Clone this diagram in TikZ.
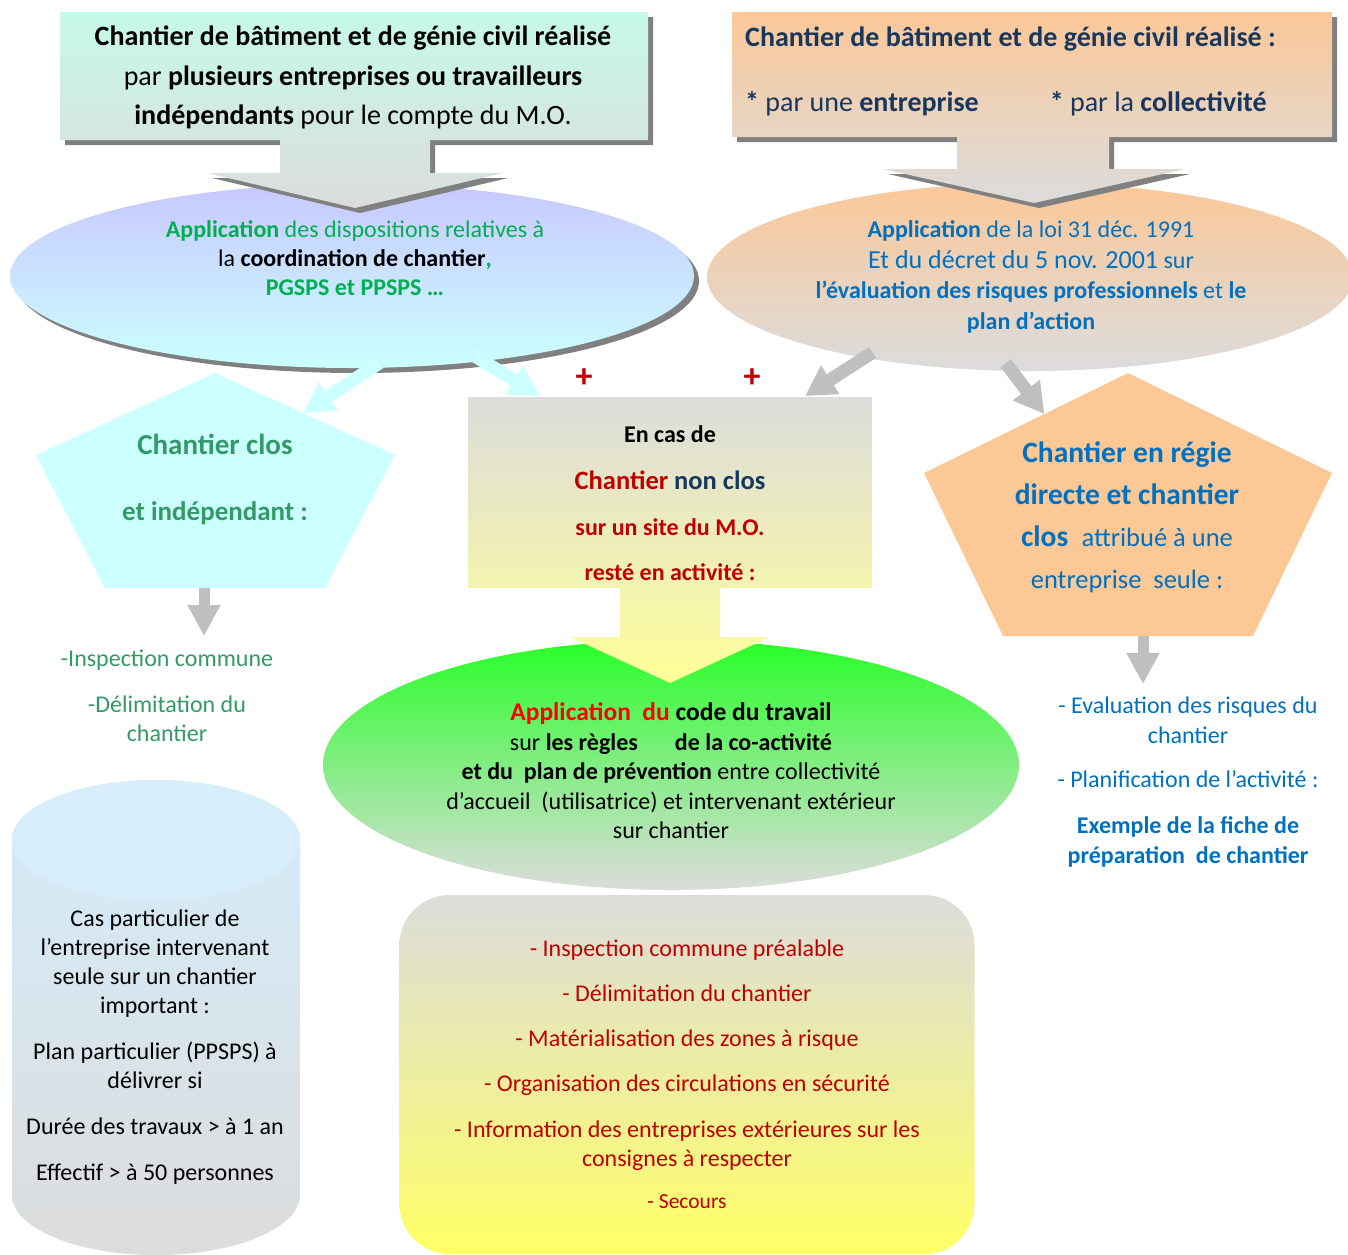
\documentclass[tikz,border=0pt]{standalone}
\usepackage{fontspec}
\setmainfont{Carlito}
\usetikzlibrary{shapes.geometric,arrows.meta,shadows,calc}

\definecolor{mint}{RGB}{198,250,230}
\definecolor{lgray}{RGB}{220,220,220}
\definecolor{peach}{RGB}{251,200,152}
\definecolor{lavend}{RGB}{200,200,255}
\definecolor{lcyan}{RGB}{204,255,255}
\definecolor{bgreen}{RGB}{40,255,40}
\definecolor{lyellow}{RGB}{255,255,153}
\definecolor{byellow}{RGB}{255,255,102}
\definecolor{skyblue}{RGB}{212,237,252}
\definecolor{capblue}{RGB}{216,238,251}
\definecolor{arrgray}{RGB}{191,191,191}
\definecolor{shgray}{RGB}{128,128,128}
\definecolor{txtgreen}{RGB}{0,176,80}
\definecolor{dgreen}{RGB}{51,153,102}
\definecolor{offblue}{RGB}{0,112,192}
\definecolor{navyblue}{RGB}{23,55,94}
\definecolor{dred}{RGB}{192,0,0}
\definecolor{pentpeach}{RGB}{252,200,150}

\newcommand{\fsz}[2]{\fontsize{#1}{#2}\selectfont}

\begin{document}
\begin{tikzpicture}[x=1pt, y=-1pt,
    every node/.style={align=center, inner sep=0pt},
    shadowed/.style={drop shadow={shadow xshift=5pt, shadow yshift=-5pt, fill=shgray, opacity=1}},
    fatarrow/.style={line width=13pt, draw=#1, -{Triangle[length=30pt, width=32pt]}},
    downarrow/.style={line width=11pt, draw=arrgray, -{Triangle[length=31pt, width=31pt]}}]
    \useasboundingbox (0,0) rectangle (1348,1254);

    \node[ellipse, minimum width=696, minimum height=250, top color=bgreen, bottom color=lgray] (gell) at (671,765) {};
    \path[top color=lgray, bottom color=lyellow] (468,397) -- (872,397) -- (872,588) -- (720,588) -- (720,637) -- (770,637)
        -- (670,683) -- (570,637) -- (620,637) -- (620,588) -- (468,588) -- cycle;

    \coordinate (lpTop) at (215,373);
    \coordinate (lpRight) at (395,455);
    \coordinate (lpBR) at (325,588);
    \coordinate (lpBL) at (105,588);
    \coordinate (lpLeft) at (36,455);
    \fill[lcyan] (lpTop) -- (lpRight) -- (lpBR) -- (lpBL) -- (lpLeft) -- cycle;
    \coordinate (rpTop) at (1128,373);
    \coordinate (rpRight) at (1332,473);
    \coordinate (rpBR) at (1253,636);
    \coordinate (rpBL) at (1003,636);
    \coordinate (rpLeft) at (924,473);
    \fill[pentpeach] (rpTop) -- (rpRight) -- (rpBR) -- (rpBL) -- (rpLeft) -- cycle;

    \coordinate (ctopL) at (540,396);
    \coordinate (ctopR) at (805,396);
    \coordinate (lpTip) at ($(lpTop)!0.49!(lpRight)$);
    \coordinate (rpTip) at ($(rpTop)!0.41!(rpLeft)$);

    \node[ellipse, minimum width=684, minimum height=184, top color=lavend, bottom color=lcyan, shadowed] (lell) at (352,276) {};
    \node[ellipse, minimum width=646, minimum height=188, top color=peach, bottom color=lgray] (rell) at (1030,277) {};

    \draw[fatarrow=lcyan, shorten <=-10pt] (lell.-78) -- (lpTip);
    \draw[fatarrow=lcyan, shorten <=-10pt] (lell.-33) -- (ctopL);
    \draw[fatarrow=arrgray, shorten <=-10pt] (rell.-154) -- (ctopR);
    \draw[fatarrow=arrgray, shorten <=-10pt] (rell.-101) -- (rpTip);

    \path[top color=mint, bottom color=lgray, shadowed] (60,12) -- (648,12) -- (648,140) -- (430,140) -- (430,173) -- (503,173)
        -- (355,208) -- (207,173) -- (280,173) -- (280,140) -- (60,140) -- cycle;
    \path[top color=peach, bottom color=lgray, shadowed] (732,12) -- (1332,12) -- (1332,137) -- (1109,137) -- (1109,169) -- (1185,169)
        -- (1034,203) -- (883,169) -- (957,169) -- (957,137) -- (732,137) -- cycle;

    \node[font=\fsz{28}{39.5}] (ltitle) at (353,77.5) {\textbf{Chantier de bâtiment et de génie civil réalisé}\\
        par \textbf{plusieurs entreprises ou travailleurs}\\ \textbf{indépendants} pour le compte du M.O.};
    \node[anchor=west, font=\fsz{28}{33}\bfseries, text=navyblue] (rtitle) at (745,39) {Chantier de bâtiment et de génie civil réalisé :};
    \node[anchor=west, font=\fsz{28}{33}, text=navyblue] (rsub) at (745,104) {\textbf{*} par une \textbf{entreprise}\hspace{71pt}\textbf{*} par la \textbf{collectivité}};

    \node[font=\fsz{24}{29}, text=txtgreen] (ltext) at (355,258) {\textbf{Application} des dispositions relatives à\\
        {\color{black}la \textbf{coordination de chantier}}\textbf{,}\\ \textbf{PGSPS et PPSPS …}};
    \node[font=\fsz{24}{30.5}, text=offblue] (rtext) at (1031,277) {\textbf{Application} de la loi 31 déc. 1991\\
        {\fsz{26}{30.5}Et du décret du 5 nov. 2001} sur\\
        \textbf{l’évaluation des risques professionnels} et \textbf{le}\\ \textbf{plan d’action}};

    \node[font=\bfseries\fontsize{34}{0}\selectfont, text=dred] (plusL) at (584,378) {+};
    \node[font=\bfseries\fontsize{34}{0}\selectfont, text=dred] (plusR) at (752,378) {+};

    \node[text=dgreen, font=\bfseries] (lptext) at (215,479) {{\fsz{29}{34}Chantier clos}\\[46pt] {\fsz{27}{30}et indépendant :}};
    \node[font=\fsz{24}{29}, text=black] (ctext) at (670,503.5) {\textbf{En cas de}\\[18pt]
        {\fsz{26.5}{30}\textbf{\color{dred}Chantier} \textbf{\color{navyblue}non clos}}\\[17pt]
        \textbf{\color{dred}sur un site du M.O.}\\[16pt] \textbf{\color{dred}resté en activité :}};
    \node[font=\fsz{24}{29.5}] (gtext) at (671,771) {{\fsz{25.5}{29.5}\textbf{\color{red}Application\ \ du} \textbf{code du travail}}\\
        sur \textbf{les règles}\hspace{37pt}\textbf{de la co-activité}\\
        \textbf{et du\ \ plan de prévention} entre collectivité\\
        d’accueil\ \ (utilisatrice) et intervenant extérieur\\ sur chantier};
    \node[font=\fsz{29.5}{42}, text=offblue] (rptext) at (1127,517) {\textbf{Chantier en régie}\\ \textbf{directe et chantier}\\
        \textbf{clos}\ \ {\fsz{26.5}{42}attribué à une}\\ {\fsz{26.5}{38}entreprise\ \ seule :}};

    \coordinate (lpFoot) at (204,588);
    \coordinate (lpArrEnd) at (204,636);
    \coordinate (rpFoot) at (1143,636);
    \coordinate (rpArrEnd) at (1143,684);
    \draw[downarrow] (lpFoot) -- (lpArrEnd);
    \draw[downarrow] (rpFoot) -- (rpArrEnd);

    \node[font=\fsz{24}{29}, text=dgreen] (llist) at (167,696) {-Inspection commune\\[17pt] -Délimitation du\\ chantier};
    \node[font=\fsz{24}{30}, text=offblue] (rlist) at (1188,782) {- Evaluation des risques du\\ chantier\\[14pt]
        - Planification de l’activité :\\[16pt] \textbf{Exemple de la fiche de}\\ \textbf{préparation\ \ de chantier}};

    \path[top color=skyblue, bottom color=lgray] (12,840) -- (12,1195) arc[start angle=180, end angle=360, x radius=144pt, y radius=60pt]
        -- (300,840) arc[start angle=0, end angle=180, x radius=144pt, y radius=60pt] -- cycle;
    \fill[capblue] (156,840) ellipse[x radius=144pt, y radius=60pt];
    \node[font=\fsz{24}{29}] (cyltext) at (155,1047) {Cas particulier de\\ l’entreprise intervenant\\ seule sur un chantier\\ important :\\[17pt]
        Plan particulier (PPSPS) à\\ délivrer si\\[17pt] Durée des travaux > à 1 an\\[17pt] Effectif > à 50 personnes};

    \node[rectangle, rounded corners=50pt, minimum width=575, minimum height=359, top color=lgray, bottom color=byellow,
        font=\fsz{24}{29}, text=dred] (rbox) at (687,1074.5) {- Inspection commune préalable\\[16pt] - Délimitation du chantier\\[16pt]
        - Matérialisation des zones à risque\\[16pt] - Organisation des circulations en sécurité\\[17pt]
        - Information des entreprises extérieures sur les\\ consignes à respecter\\[13pt] {\fsz{21.5}{24}- Secours}};
\end{tikzpicture}
\end{document}
